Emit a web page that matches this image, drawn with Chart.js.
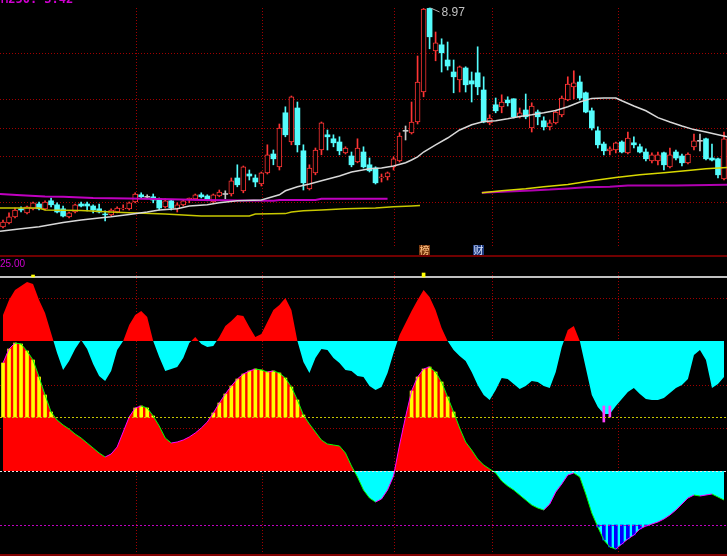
<!DOCTYPE html>
<html>
<head>
<meta charset="utf-8">
<script src="https://cdn.jsdelivr.net/npm/chart.js@4.4.0/dist/chart.umd.min.js"></script>
<style>
  html, body { margin: 0; padding: 0; background: #000; }
  #wrap { position: relative; width: 727px; height: 556px; overflow: hidden; background: #000; }
  #priceChart { position: absolute; left: 0; top: 0; }
  #indChart { position: absolute; left: 0; top: 257px; }
</style>
</head>
<body>
<div id="wrap">
  <canvas id="priceChart" width="727" height="257"></canvas>
  <canvas id="indChart" width="727" height="299"></canvas>
</div>
<script>
// ---- daily candles (121 bars) ----
const opens  = [3.50,3.60,3.75,3.95,3.85,3.95,4.07,3.95,4.15,4.05,3.95,3.75,3.87,4.07,4.07,4.02,3.95,3.82,3.80,3.87,
                3.95,3.95,4.12,4.30,4.25,4.25,4.20,4.00,4.15,3.95,4.05,4.17,4.20,4.30,4.27,4.12,4.27,4.32,4.32,4.72,
                4.40,4.82,4.72,4.57,4.85,5.32,5.00,6.35,5.62,6.47,5.40,4.45,4.85,5.42,5.80,5.70,5.62,5.35,5.27,5.12,
                5.37,5.05,4.97,4.72,4.75,5.00,5.15,5.90,5.85,6.12,6.87,8.96,7.90,8.05,7.67,7.37,7.17,7.47,7.15,7.35,
                6.92,6.10,6.55,6.50,6.67,6.70,6.25,6.42,5.97,6.37,6.15,6.00,6.10,6.30,6.67,7.00,7.12,6.85,6.40,5.90,
                5.57,5.40,5.42,5.62,5.35,5.60,5.50,5.37,5.15,5.15,5.35,5.00,5.37,5.27,5.10,5.50,5.65,5.70,5.22,5.20,
                4.70];
const closes = [3.62,3.75,3.92,3.92,4.00,4.10,3.95,4.12,4.05,3.87,3.77,3.85,4.05,4.02,4.02,3.92,3.87,3.80,3.92,3.97,
                3.97,4.10,4.32,4.25,4.25,4.17,3.97,4.15,3.97,4.05,4.15,4.22,4.30,4.25,4.17,4.30,4.37,4.32,4.65,4.55,
                5.00,4.77,4.62,4.85,5.30,5.20,5.97,5.80,6.75,5.55,4.60,4.97,5.42,6.10,5.75,5.60,5.40,5.47,5.05,5.47,
                5.00,4.90,4.60,4.75,4.85,5.20,5.77,5.90,6.12,7.12,8.94,8.25,8.10,7.85,7.52,7.25,7.50,7.05,7.07,7.00,
                6.12,6.22,6.40,6.62,6.60,6.25,6.35,6.25,6.52,6.25,6.00,6.10,6.37,6.72,7.07,7.10,6.72,6.37,5.97,5.55,
                5.40,5.45,5.60,5.37,5.72,5.55,5.37,5.20,5.30,5.30,5.05,5.30,5.22,5.10,5.32,5.65,5.65,5.20,5.17,4.80,
                5.70];
const highs  = [3.67,3.85,3.97,4.00,4.02,4.12,4.12,4.15,4.22,4.10,4.02,3.87,4.07,4.12,4.12,4.05,4.07,3.90,3.95,4.00,
                4.05,4.12,4.35,4.35,4.30,4.32,4.22,4.20,4.17,4.10,4.17,4.22,4.32,4.35,4.30,4.32,4.42,4.40,4.72,5.05,
                5.02,4.92,4.80,4.87,5.55,5.42,6.07,6.50,6.77,6.62,5.55,5.05,5.47,6.12,5.92,5.80,5.75,5.50,5.37,5.70,
                5.50,5.22,5.00,4.82,4.87,5.25,5.85,6.02,6.62,7.77,8.96,8.97,8.37,8.20,8.12,7.67,7.52,7.50,7.37,8.00,
                7.25,6.30,6.72,6.80,6.75,6.70,6.47,6.82,6.60,6.42,6.25,6.17,6.42,6.77,7.25,7.40,7.27,6.87,6.47,6.00,
                5.62,5.50,5.62,5.65,5.87,5.75,5.57,5.45,5.35,5.37,5.37,5.47,5.42,5.32,5.35,5.82,5.82,5.72,5.57,5.22,
                5.87];
const lows   = [3.47,3.57,3.72,3.87,3.82,3.92,3.92,3.92,4.00,3.85,3.75,3.72,3.85,4.00,3.90,3.85,3.85,3.65,3.77,3.85,
                3.92,3.92,4.10,4.22,4.20,4.10,3.92,3.97,3.92,3.87,4.02,4.10,4.17,4.22,4.15,4.10,4.25,4.20,4.27,4.50,
                4.35,4.67,4.50,4.52,4.82,5.05,4.92,5.75,5.55,5.37,4.42,4.42,4.80,5.30,5.42,5.50,5.30,5.32,5.00,5.10,
                4.97,4.87,4.57,4.62,4.67,4.92,5.12,5.67,5.82,6.07,6.75,7.95,7.65,7.37,7.42,6.85,6.87,6.87,6.62,6.80,
                6.10,6.05,6.35,6.35,6.52,6.22,6.22,6.20,5.87,6.05,5.92,5.92,6.07,6.25,6.65,6.70,6.67,6.35,5.92,5.47,
                5.30,5.30,5.35,5.35,5.32,5.47,5.35,5.15,5.10,5.05,4.92,4.97,5.17,5.02,5.07,5.42,5.40,5.17,5.15,4.72,
                4.67];

// ---- moving averages, read as [bar index, price] ----
const maWhite = [[-0.5,3.39],[3,3.45],[6,3.50],[10,3.61],[13,3.67],[16,3.72],[18,3.75],[21,3.81],[24,3.87],[26,3.92],
                 [29,3.95],[31,4.02],[34,4.05],[36,4.10],[39,4.15],[43,4.17],[46,4.30],[47,4.40],[49,4.50],[51,4.57],
                 [53,4.65],[56,4.77],[58,4.87],[61,4.95],[63,4.97],[65,5.02],[67,5.10],[68,5.17],[69,5.25],[70,5.37],
                 [72,5.55],[74,5.72],[76,5.92],[78,6.05],[80,6.13],[82,6.15],[84,6.20],[86,6.26],[88,6.30],[90,6.35],
                 [92,6.41],[94,6.50],[96,6.62],[98,6.71],[100,6.72],[102,6.72],[103,6.65],[105,6.52],[107,6.40],[109,6.23],
                 [111,6.12],[113,6.02],[115,5.93],[117,5.87],[119,5.80],[120.5,5.75]];
const maYellowA = [[-0.5,3.97],[6,3.97],[7,3.92],[13,3.91],[18,3.87],[21,3.85],[27,3.82],[33,3.77],[41,3.77],[42,3.82],
                   [47,3.83],[48,3.87],[50,3.90],[53,3.92],[57,3.95],[62,3.97],[65,4.00],[68,4.02],[69.4,4.03]];
const maYellowB = [[79.7,4.35],[83,4.40],[87,4.45],[90,4.50],[94,4.56],[98,4.65],[102,4.73],[106,4.80],[110,4.85],
                   [114,4.91],[117,4.95],[120.5,4.98]];
const maPinkA = [[-0.5,4.32],[3,4.29],[7,4.26],[10,4.25],[15,4.22],[21,4.21],[28,4.19],[33,4.17],[40,4.16],[45,4.15],
                 [46,4.17],[52,4.17],[53,4.20],[64,4.20]];
const maPinkB = [[79.7,4.35],[84,4.38],[88,4.41],[91,4.43],[94,4.46],[97,4.49],[101,4.50],[104,4.53],[112,4.53],[120.5,4.55]];

const priceGrid = [7.85, 6.70, 5.97, 5.27, 4.12];
const monthLines = [22.14, 43.11, 65.08, 81.35, 102.36];
const tags = [{ at: 70, text: '榜', bg: '#7a3a10', fg: '#ffc080' }, { at: 79, text: '财', bg: '#203c80', fg: '#d8e4ff' }];

// ---- lower indicator ----
const lineA = [156,171,181,185,189,187,171,158,138,118,101,110,122,131,122,107,95,90,100,121,
               130,146,156,160,154,130,114,100,102,104,113,128,134,127,124,125,134,145,150,156,
               155,144,134,137,149,161,166,173,161,130,109,98,113,122,121,113,108,101,100,95,
               94,85,81,84,98,118,136,148,160,171,181,174,161,143,130,121,115,110,99,86,
               76,71,81,93,92,87,82,85,90,89,85,83,99,124,141,145,130,103,76,64,
               57,57,65,72,79,83,77,72,71,71,73,78,83,86,92,116,121,111,83,87,
               94];
const lineB = [108,122,128,127,120,111,94,76,59,51,46,42,37,33,28,23,18,14,17,24,
               39,54,63,65,63,55,45,33,28,29,31,34,38,43,49,58,68,77,85,92,
               97,100,102,101,99,100,98,93,84,71,56,47,39,31,27,26,25,18,5,-6,
               -19,-27,-31,-28,-19,-5,26,54,80,94,102,104,99,89,74,59,43,29,21,12,
               6,2,-2,-10,-15,-19,-24,-29,-34,-37,-39,-33,-21,-13,-4,-2,-6,-23,-42,-56,
               -69,-76,-78,-73,-68,-64,-58,-55,-53,-51,-48,-44,-39,-33,-27,-24,-25,-24,-23,-26,
               -29];
const A_BASE = 130;
const B_HI = 54, B_MID = 0, B_LO = -54;
const topRule = 194;
const yellowTicks = [[5, 194, 196], [70, 194, 198]];
const pinkTicks = [[100, 49, 65], [101, 54, 65]];
const indGrid = [173, 86, 43];
const indLabel = '25.00';

// ---- build ----
const idx = opens.map((_, i) => i);
const UP = '#ff3434', DOWN = '#54fcfc', FLAT = '#c8c8c8';
const colr = opens.map((o, i) => closes[i] > o ? UP : closes[i] < o ? DOWN : FLAT);
const bodies = opens.map((o, i) => o === closes[i] ? [o - 0.012, o + 0.012] : [o, closes[i]]);
const wicks = lows.map((l, i) => [l, highs[i]]);
const pts = a => a.map(p => ({ x: p[0], y: p[1] }));

function hline(ctx, x0, x1, y) { ctx.beginPath(); ctx.moveTo(x0, y); ctx.lineTo(x1, y); ctx.stroke(); }
function vline(ctx, x, y0, y1) { ctx.beginPath(); ctx.moveTo(x, y0); ctx.lineTo(x, y1); ctx.stroke(); }

const priceDecor = {
  id: 'priceDecor',
  beforeDatasetsDraw(chart) {
    const { ctx, width, scales: { x, y } } = chart;
    ctx.save();
    ctx.strokeStyle = '#a00000';
    ctx.lineWidth = 1;
    ctx.setLineDash([1, 2]);
    priceGrid.forEach(p => hline(ctx, 0, width, Math.round(y.getPixelForValue(p)) + 0.5));
    monthLines.forEach(m => vline(ctx, Math.round(x.getPixelForValue(m)) + 0.5, 8, 247));
    ctx.restore();
  },
  afterDatasetsDraw(chart) {
    const { ctx, width, height, scales: { x, y } } = chart;
    ctx.save();
    // highest price marker
    const top = Math.max(...highs);
    const ti = highs.indexOf(top);
    const hx = x.getPixelForValue(ti), hy = y.getPixelForValue(top);
    ctx.strokeStyle = '#b0b0b0';
    ctx.lineWidth = 1;
    ctx.beginPath(); ctx.moveTo(hx + 1, hy); ctx.lineTo(hx + 10, hy + 4); ctx.stroke();
    ctx.fillStyle = '#c0c0c0';
    ctx.font = '12px "Liberation Sans", Arial, sans-serif';
    ctx.textBaseline = 'middle';
    ctx.fillText(top.toFixed(2), hx + 12, hy + 5);
    // clipped caption on top edge
    ctx.fillStyle = '#d000d0';
    ctx.font = 'bold 12px "DejaVu Sans Mono", monospace';
    ctx.textBaseline = 'alphabetic';
    ctx.fillText('M250: 3.42', 1, 3);
    // event tags
    ctx.font = '10px "Noto Sans CJK SC", sans-serif';
    ctx.textAlign = 'center';
    ctx.textBaseline = 'middle';
    tags.forEach(t => {
      const cx = Math.round(x.getPixelForValue(t.at));
      ctx.fillStyle = t.bg;
      ctx.fillRect(cx - 5, 245, 11, 11);
      ctx.fillStyle = t.fg;
      ctx.fillText(t.text, cx + 0.5, 250.5);
    });
    // panel separator
    ctx.fillStyle = '#700000';
    ctx.fillRect(0, height - 2, width, 2);
    ctx.restore();
  }
};

new Chart(document.getElementById('priceChart'), {
  type: 'bar',
  data: {
    labels: idx,
    datasets: [
      { type: 'line', data: pts(maWhite), borderColor: '#d8d8d8', borderWidth: 1.5, pointRadius: 0, order: 0 },
      { type: 'line', data: pts(maYellowA), borderColor: '#c8c800', borderWidth: 1.5, pointRadius: 0, order: 1 },
      { type: 'line', data: pts(maYellowB), borderColor: '#d8d800', borderWidth: 1.5, pointRadius: 0, order: 1 },
      { type: 'line', data: pts(maPinkA), borderColor: '#c000c0', borderWidth: 2, pointRadius: 0, order: 2 },
      { type: 'line', data: pts(maPinkB), borderColor: '#b000b0', borderWidth: 2, pointRadius: 0, order: 2 },
      { data: bodies, grouped: false, barThickness: 5, borderSkipped: false,
        backgroundColor: colr.map(c => c === UP ? '#000000' : c),
        borderColor: colr, borderWidth: colr.map(c => c === UP ? 1 : 0), order: 5 },
      { data: wicks, grouped: false, barThickness: 1, backgroundColor: colr, borderWidth: 0, order: 6 }
    ]
  },
  options: {
    responsive: false,
    animation: false,
    events: [],
    layout: { padding: 0 },
    plugins: { legend: { display: false }, tooltip: { enabled: false } },
    scales: {
      x: { type: 'linear', min: -0.5, max: 120.5, offset: false, display: false },
      y: { min: 2.745, max: 9.17, display: false }
    }
  },
  plugins: [priceDecor]
});

const indDecor = {
  id: 'indDecor',
  beforeDatasetsDraw(chart) {
    const { ctx, width, height, scales: { x, y } } = chart;
    ctx.save();
    ctx.strokeStyle = '#a00000';
    ctx.lineWidth = 1;
    ctx.setLineDash([1, 2]);
    indGrid.forEach(v => hline(ctx, 0, width, Math.round(y.getPixelForValue(v)) + 0.5));
    monthLines.forEach(m => vline(ctx, Math.round(x.getPixelForValue(m)) + 0.5, 15, height));
    ctx.setLineDash([]);
    ctx.strokeStyle = '#c0c0c0';
    ctx.lineWidth = 2;
    hline(ctx, 0, width, Math.round(y.getPixelForValue(topRule)));
    ctx.restore();
  },
  afterDatasetsDraw(chart) {
    const { ctx, width, height, scales: { y } } = chart;
    ctx.save();
    ctx.lineWidth = 1;
    ctx.setLineDash([2, 2]);
    [[B_HI, '#c8c800'], [B_MID, '#e8e8e8'], [B_LO, '#c000c0']].forEach(([v, c]) => {
      ctx.strokeStyle = c;
      hline(ctx, 0, width, Math.round(y.getPixelForValue(v)) + 0.5);
    });
    ctx.fillStyle = '#d000d0';
    ctx.font = '10px "Liberation Sans", Arial, sans-serif';
    ctx.textBaseline = 'top';
    ctx.fillText(indLabel, 0, 2);
    ctx.fillStyle = '#800000';
    ctx.fillRect(0, height - 2, width, 2);
    ctx.restore();
  }
};

const segColor = c => c.p1.parsed.y >= c.p0.parsed.y ? '#ff00ff' : '#00ff00';

new Chart(document.getElementById('indChart'), {
  type: 'line',
  data: {
    labels: idx,
    datasets: [
      { data: lineA, borderWidth: 0, borderColor: 'rgba(0,0,0,0)', pointRadius: 0,
        fill: { target: { value: A_BASE }, above: '#ff0000', below: '#00ffff' }, order: 9 },
      { data: lineB, borderWidth: 0, borderColor: 'rgba(0,0,0,0)', pointRadius: 0,
        fill: { target: { value: B_MID }, above: '#ff0000', below: '#00ffff' }, order: 8 },
      { type: 'bar', data: lineB.map(v => v > B_HI ? [B_HI, v] : null), grouped: false,
        barThickness: 3, backgroundColor: '#ffff00', order: 7 },
      { type: 'bar', data: lineB.map(v => v < B_LO ? [B_LO, v] : null), grouped: false,
        barThickness: 3, backgroundColor: '#0000ff', order: 7 },
      { data: lineB, borderWidth: 1, pointRadius: 0, fill: false, borderColor: '#00ff00',
        segment: { borderColor: segColor }, order: 6 },
      { type: 'bar', data: yellowTicks.map(t => ({ x: t[0], y: [t[1], t[2]] })), grouped: false,
        barThickness: 3, backgroundColor: '#ffff00', order: 5 },
      { type: 'bar', data: pinkTicks.map(t => ({ x: t[0], y: [t[1], t[2]] })), grouped: false,
        barThickness: 2, backgroundColor: '#ff40ff', order: 5 }
    ]
  },
  options: {
    responsive: false,
    animation: false,
    events: [],
    layout: { padding: 0 },
    plugins: { legend: { display: false }, tooltip: { enabled: false } },
    scales: {
      x: { type: 'linear', min: -0.5, max: 120.5, offset: false, display: false },
      y: { min: -85, max: 214, display: false }
    }
  },
  plugins: [indDecor]
});
</script>
</body>
</html>
